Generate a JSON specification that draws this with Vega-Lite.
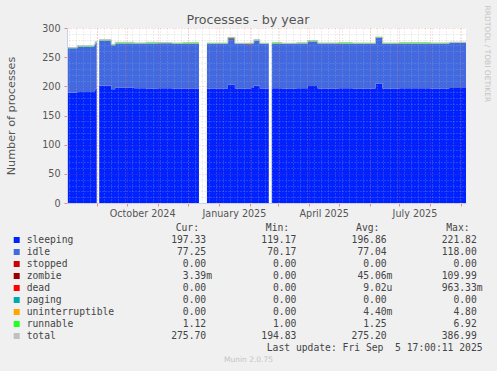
{
  "$schema": "https://vega.github.io/schema/vega-lite/v6.json",
  "width": 399,
  "height": 175,
  "autosize": {"type": "none"},
  "padding": {"left": 67, "top": 28, "right": 31, "bottom": 168},
  "background": "#f0f0f0",
  "config": {
    "view": {"fill": "#ffffff", "stroke": null},
    "font": "DejaVu Sans",
    "axis": {"labelFont": "DejaVu Sans", "titleFont": "DejaVu Sans", "titleFontWeight": "normal"}
  },
  "title": {
    "text": "Processes - by year",
    "frame": "group",
    "anchor": "middle",
    "dx": -18.5,
    "dy": 26,
    "fontSize": 12.7,
    "fontWeight": "normal",
    "color": "#555555",
    "font": "DejaVu Sans",
    "offset": 4
  },
  "datasets": {
    "series": [
      {"name": "sleeping", "o": 1, "cur": "197.33", "min": "119.17", "avg": "196.86", "max": "221.82"},
      {"name": "idle", "o": 2, "cur": "77.25", "min": "70.17", "avg": "77.04", "max": "118.00"},
      {"name": "stopped", "o": 3, "cur": "0.00", "min": "0.00", "avg": "0.00", "max": "0.00"},
      {"name": "zombie", "o": 4, "cur": "3.39m", "min": "0.00", "avg": "45.06m", "max": "109.99"},
      {"name": "dead", "o": 5, "cur": "0.00", "min": "0.00", "avg": "9.02u", "max": "963.33m"},
      {"name": "paging", "o": 6, "cur": "0.00", "min": "0.00", "avg": "0.00", "max": "0.00"},
      {"name": "uninterruptible", "o": 7, "cur": "0.00", "min": "0.00", "avg": "4.40m", "max": "4.80"},
      {"name": "runnable", "o": 8, "cur": "1.12", "min": "1.00", "avg": "1.25", "max": "6.92"},
      {"name": "total", "o": 9, "cur": "275.70", "min": "194.83", "avg": "275.20", "max": "386.99"}
    ],
    "procs": [
      {"d": "2024-08-01T17:00", "seg": 1, "sleeping": 189, "idle": 76.3, "zombie": 0, "runnable": 1.2, "total": 266.5},
      {"d": "2024-08-12T00:00", "seg": 1, "sleeping": 190.5, "idle": 77.8, "zombie": 0, "runnable": 1.2, "total": 269.5},
      {"d": "2024-08-29T00:00", "seg": 1, "sleeping": 192.5, "idle": 78.5, "zombie": 0, "runnable": 1.5, "total": 272.5},
      {"d": "2024-08-30T00:00", "seg": 1, "sleeping": 196, "idle": 79.5, "zombie": 0, "runnable": 1.5, "total": 277},
      {"d": "2024-08-31T12:00", "seg": 1, "sleeping": 196, "idle": 79.5, "zombie": 0, "runnable": 1.5, "total": 277},
      {"d": "2024-09-03T00:00", "seg": 2, "sleeping": 201.5, "idle": 77, "zombie": 0, "runnable": 1.5, "total": 280},
      {"d": "2024-09-15T00:00", "seg": 2, "sleeping": 195, "idle": 75.5, "zombie": 0, "runnable": 1.5, "total": 272},
      {"d": "2024-09-19T00:00", "seg": 2, "sleeping": 198, "idle": 75.5, "zombie": 0, "runnable": 2, "total": 275.5},
      {"d": "2024-10-08T00:00", "seg": 2, "sleeping": 196.8, "idle": 76.5, "zombie": 0, "runnable": 1.2, "total": 274.5},
      {"d": "2024-10-20T00:00", "seg": 2, "sleeping": 196.5, "idle": 76.8, "zombie": 0, "runnable": 2.2, "total": 275.5},
      {"d": "2024-11-01T00:00", "seg": 2, "sleeping": 196.8, "idle": 77, "zombie": 0, "runnable": 1.2, "total": 275},
      {"d": "2024-11-15T00:00", "seg": 2, "sleeping": 196.3, "idle": 76.5, "zombie": 0, "runnable": 1.5, "total": 274.3},
      {"d": "2024-11-26T00:00", "seg": 2, "sleeping": 196.5, "idle": 76.5, "zombie": 0, "runnable": 2, "total": 275},
      {"d": "2024-12-12T00:00", "seg": 2, "sleeping": 196.5, "idle": 76.5, "zombie": 0, "runnable": 2, "total": 275},
      {"d": "2024-12-20T00:00", "seg": 3, "sleeping": 196.5, "idle": 76.6, "zombie": 0, "runnable": 1.2, "total": 274.3},
      {"d": "2025-01-10T00:00", "seg": 3, "sleeping": 203, "idle": 78, "zombie": 1.5, "runnable": 1.5, "total": 284},
      {"d": "2025-01-17T00:00", "seg": 3, "sleeping": 196.5, "idle": 76.3, "zombie": 0, "runnable": 1.2, "total": 274},
      {"d": "2025-01-28T00:00", "seg": 3, "sleeping": 196.5, "idle": 75.1, "zombie": 1.2, "runnable": 1.2, "total": 274},
      {"d": "2025-02-02T00:00", "seg": 3, "sleeping": 197, "idle": 76.3, "zombie": 0, "runnable": 1.2, "total": 274.5},
      {"d": "2025-02-05T00:00", "seg": 3, "sleeping": 201, "idle": 77.5, "zombie": 0, "runnable": 1.5, "total": 280},
      {"d": "2025-02-11T00:00", "seg": 3, "sleeping": 196.5, "idle": 76.3, "zombie": 0, "runnable": 1.2, "total": 274},
      {"d": "2025-02-20T00:00", "seg": 3, "sleeping": 196.5, "idle": 76.3, "zombie": 0, "runnable": 1.2, "total": 274},
      {"d": "2025-02-23T00:00", "seg": 4, "sleeping": 196.8, "idle": 76.2, "zombie": 0, "runnable": 2, "total": 275},
      {"d": "2025-03-05T00:00", "seg": 4, "sleeping": 196.5, "idle": 76.3, "zombie": 0, "runnable": 1.2, "total": 274},
      {"d": "2025-03-20T00:00", "seg": 4, "sleeping": 196.8, "idle": 76.5, "zombie": 0, "runnable": 1.5, "total": 274.8},
      {"d": "2025-03-31T00:00", "seg": 4, "sleeping": 200.5, "idle": 76.5, "zombie": 0, "runnable": 1.5, "total": 278.5},
      {"d": "2025-04-10T00:00", "seg": 4, "sleeping": 196.5, "idle": 76.8, "zombie": 0, "runnable": 1.2, "total": 274.5},
      {"d": "2025-05-01T00:00", "seg": 4, "sleeping": 196.8, "idle": 76.2, "zombie": 0, "runnable": 2, "total": 275},
      {"d": "2025-05-15T00:00", "seg": 4, "sleeping": 196.5, "idle": 76.6, "zombie": 0, "runnable": 1.2, "total": 274.3},
      {"d": "2025-06-07T00:00", "seg": 4, "sleeping": 205, "idle": 78, "zombie": 0, "runnable": 1.5, "total": 284.5},
      {"d": "2025-06-14T00:00", "seg": 4, "sleeping": 196.5, "idle": 76.6, "zombie": 0, "runnable": 1.2, "total": 274.3},
      {"d": "2025-07-01T00:00", "seg": 4, "sleeping": 196.8, "idle": 76.2, "zombie": 0, "runnable": 2, "total": 275},
      {"d": "2025-08-01T00:00", "seg": 4, "sleeping": 196.5, "idle": 76.5, "zombie": 0, "runnable": 1.5, "total": 274.5},
      {"d": "2025-08-20T00:00", "seg": 4, "sleeping": 197.3, "idle": 77.3, "zombie": 0, "runnable": 1.1, "total": 275.7},
      {"d": "2025-09-05T17:00", "seg": 4, "sleeping": 197.3, "idle": 77.3, "zombie": 0, "runnable": 1.1, "total": 275.7}
    ]
  },
  "layer": [
    {
      "data": {"name": "procs"},
      "layer": [
        {
          "transform": [
            {"fold": ["sleeping", "idle", "zombie", "runnable"], "as": ["key", "value"]},
            {"lookup": "key", "from": {"data": {"name": "series"}, "key": "name", "fields": ["o"]}}
          ],
          "mark": {"type": "area", "interpolate": "step-after"},
          "encoding": {
            "x": {
              "field": "d", "type": "temporal",
              "scale": {"domain": [{"year": 2024, "month": 8, "date": 1, "hours": 17}, {"year": 2025, "month": 9, "date": 5, "hours": 17}]},
              "axis": {
                "orient": "bottom", "tickCount": {"interval": "week", "step": 1},
                "grid": true, "gridColor": "#b4b4b4", "gridOpacity": 0.45, "gridDash": [1, 2],
                "labels": false, "ticks": false, "domain": false, "zindex": 1,
                "title": "Munin 2.0.75", "titleX": 181, "titleY": 156.7, "titleAlign": "center", "titleBaseline": "middle",
                "titleFontSize": 7.5, "titleColor": "#c4c4c4"
              }
            },
            "y": {
              "field": "value", "type": "quantitative", "stack": "zero", "impute": null,
              "scale": {"domain": [0, 300], "nice": false},
              "axis": {
                "orient": "right",
                "values": [10, 20, 30, 40, 60, 70, 80, 90, 110, 120, 130, 140, 160, 170, 180, 190, 210, 220, 230, 240, 260, 270, 280, 290],
                "grid": true, "gridColor": "#b4b4b4", "gridOpacity": 0.45, "gridDash": [1, 2],
                "labels": false, "ticks": false, "domain": false, "zindex": 1,
                "title": "RRDTOOL / TOBI OETIKER", "titleAngle": 90, "titleX": 20.7, "titleY": -23,
                "titleAlign": "left", "titleBaseline": "middle", "titleFontSize": 7.5, "titleColor": "#c4c4c4"
              }
            },
            "color": {
              "field": "key", "type": "nominal",
              "scale": {"domain": ["sleeping", "idle", "zombie", "runnable"], "range": ["#0022ff", "#4169e1", "#990000", "#22ff22"]},
              "legend": null
            },
            "order": {"field": "o", "type": "quantitative"},
            "detail": {"field": "seg", "type": "nominal"}
          }
        },
        {
          "mark": {"type": "line", "interpolate": "step-after", "color": "#c0c0c0", "strokeWidth": 1},
          "encoding": {
            "x": {
              "field": "d", "type": "temporal",
              "scale": {"domain": [{"year": 2024, "month": 8, "date": 1, "hours": 17}, {"year": 2025, "month": 9, "date": 5, "hours": 17}]},
              "axis": {
                "orient": "bottom", "tickCount": {"interval": "month", "step": 1},
                "grid": true, "gridColor": "#ff4040", "gridOpacity": 0.35, "gridDash": [1, 2],
                "ticks": true, "tickColor": "#e88888", "tickSize": 3,
                "domain": true, "domainColor": "#c6cff0",
                "labelExpr": "month(datum.value) % 3 == 0 ? timeFormat(datum.value, '%B %Y') : ''",
                "labelOffset": 15, "labelFlush": false, "labelOverlap": false,
                "labelFontSize": 9.6, "labelColor": "#555555", "labelPadding": 2,
                "title": null, "zindex": 1
              }
            },
            "y": {
              "field": "total", "type": "quantitative",
              "scale": {"domain": [0, 300], "nice": false},
              "axis": {
                "orient": "left", "values": [0, 50, 100, 150, 200, 250, 300],
                "grid": true, "gridColor": "#ff4040", "gridOpacity": 0.35, "gridDash": [1, 2],
                "ticks": true, "tickColor": "#e88888", "tickSize": 3,
                "domain": true, "domainColor": "#c6cff0",
                "labelFontSize": 9.6, "labelColor": "#555555", "labelPadding": 4,
                "title": "Number of processes", "titleFontSize": 11.2, "titleColor": "#555555",
                "titleX": -56, "titleY": 87.5, "titleAngle": -90, "titleAlign": "center", "titleBaseline": "middle",
                "zindex": 1
              }
            },
            "detail": {"field": "seg", "type": "nominal"}
          }
        }
      ],
      "resolve": {"axis": {"x": "independent", "y": "independent"}}
    },
    {
      "data": {"name": "series"},
      "layer": [
        {
          "mark": {"type": "square", "size": 36, "opacity": 1, "filled": true, "xOffset": -14.9},
          "encoding": {
            "x": {"datum": "name", "type": "ordinal", "scale": {"type": "point", "domain": ["name", "gap", "cur", "min", "avg", "max"], "range": [-35.4, 415.6], "padding": 0}, "axis": null},
            "y": {"field": "name", "type": "ordinal", "scale": {"type": "point", "domain": ["header", "sleeping", "idle", "stopped", "zombie", "dead", "paging", "uninterruptible", "runnable", "total", "last"], "range": [200, 320], "padding": 0}, "axis": null},
            "color": {
              "field": "name", "type": "nominal",
              "scale": {"domain": ["sleeping", "idle", "stopped", "zombie", "dead", "paging", "uninterruptible", "runnable", "total"], "range": ["#0022ff", "#4169e1", "#cc0000", "#990000", "#ff0000", "#00aaaa", "#ffa500", "#22ff22", "#c0c0c0"]},
              "legend": null
            }
          }
        },
        {
          "mark": {"type": "text", "align": "left", "dx": -4.9, "font": "DejaVu Sans Mono", "fontSize": 9.7, "color": "#444444"},
          "encoding": {
            "x": {"datum": "name", "type": "ordinal", "axis": null},
            "y": {"field": "name", "type": "ordinal", "axis": null},
            "text": {"field": "name"}
          }
        },
        {
          "transform": [
            {"fold": ["cur", "min", "avg", "max"], "as": ["col", "val"]},
            {"filter": "!test(/[mu]$/, datum.val)"}
          ],
          "mark": {"type": "text", "align": "right", "dx": -5.84, "font": "DejaVu Sans Mono", "fontSize": 9.7, "color": "#444444"},
          "encoding": {
            "x": {"field": "col", "type": "ordinal", "axis": null},
            "y": {"field": "name", "type": "ordinal", "axis": null},
            "text": {"field": "val"}
          }
        },
        {
          "transform": [
            {"fold": ["cur", "min", "avg", "max"], "as": ["col", "val"]},
            {"filter": "test(/[mu]$/, datum.val)"}
          ],
          "mark": {"type": "text", "align": "right", "dx": 0, "font": "DejaVu Sans Mono", "fontSize": 9.7, "color": "#444444"},
          "encoding": {
            "x": {"field": "col", "type": "ordinal", "axis": null},
            "y": {"field": "name", "type": "ordinal", "axis": null},
            "text": {"field": "val"}
          }
        },
        {
          "data": {"values": [{"col": "cur", "h": "Cur:"}, {"col": "min", "h": "Min:"}, {"col": "avg", "h": "Avg:"}, {"col": "max", "h": "Max:"}]},
          "mark": {"type": "text", "align": "right", "dx": -13, "font": "DejaVu Sans Mono", "fontSize": 9.7, "color": "#444444"},
          "encoding": {
            "x": {"field": "col", "type": "ordinal", "axis": null},
            "y": {"datum": "header", "type": "ordinal", "axis": null},
            "text": {"field": "h"}
          }
        },
        {
          "data": {"values": [{"t": "Last update: Fri Sep \u00a05 17:00:11 2025"}]},
          "mark": {"type": "text", "align": "right", "font": "DejaVu Sans Mono", "fontSize": 9.7, "color": "#444444"},
          "encoding": {
            "x": {"datum": "max", "type": "ordinal", "axis": null},
            "y": {"datum": "last", "type": "ordinal", "axis": null},
            "text": {"field": "t"}
          }
        }
      ]
    }
  ],
  "resolve": {
    "scale": {"x": "independent", "y": "independent", "color": "independent"},
    "axis": {"x": "independent", "y": "independent"}
  }
}
